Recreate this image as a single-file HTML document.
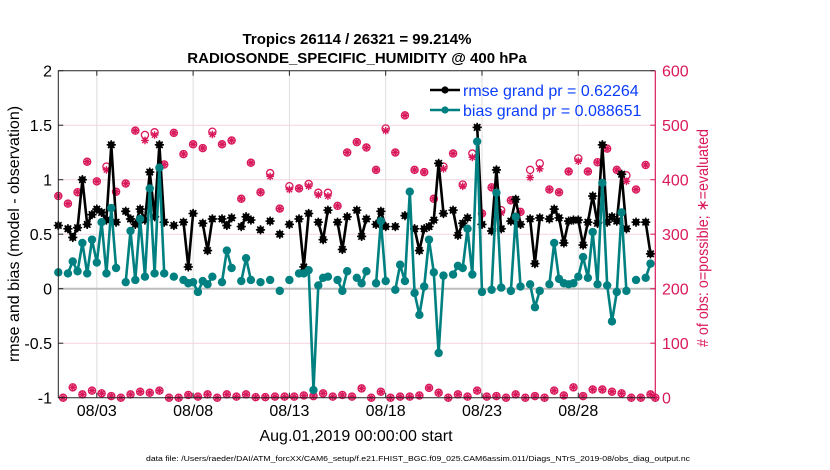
<!DOCTYPE html>
<html><head><meta charset="utf-8"><style>
html,body{margin:0;padding:0;background:#fff;width:830px;height:470px;overflow:hidden}
svg{display:block;font-family:"Liberation Sans",sans-serif}
</style></head><body>
<svg id="chart" width="830" height="470" xmlns="http://www.w3.org/2000/svg">
<text x="357" y="44" text-anchor="middle" font-size="15" font-weight="bold">Tropics 26114 / 26321 = 99.214%</text>
<text x="357" y="63" text-anchor="middle" font-size="15" font-weight="bold">RADIOSONDE_SPECIFIC_HUMIDITY @ 400 hPa</text>
<g id="grid"></g>
<g id="obs"></g>
<g id="series"></g>
<g id="axes"></g>
<text transform="translate(19,234) rotate(-90)" text-anchor="middle" font-size="16">rmse and bias (model - observation)</text>
<text transform="translate(708,238) rotate(-90)" text-anchor="middle" font-size="16" fill="#d9195c" textLength="218" lengthAdjust="spacingAndGlyphs"># of obs: o=possible; ∗=evaluated</text>
<text x="356" y="441" text-anchor="middle" font-size="16">Aug.01,2019 00:00:00 start</text>
<text x="418" y="461" text-anchor="middle" font-size="7.6" textLength="544" lengthAdjust="spacingAndGlyphs">data file: /Users/raeder/DAI/ATM_forcXX/CAM6_setup/f.e21.FHIST_BGC.f09_025.CAM6assim.011/Diags_NTrS_2019-08/obs_diag_output.nc</text>
<g id="legend"></g>
</svg>
<script>
const rmse = [0.58,null,0.55,0.47,0.56,1.0,0.59,0.68,0.73,0.70,0.63,1.32,0.61,null,0.71,0.64,0.59,0.73,0.63,1.07,0.66,1.32,0.61,null,0.58,null,0.61,0.2,0.69,null,0.6,0.35,0.64,null,0.64,0.58,0.65,null,0.57,0.66,0.63,null,0.54,null,0.62,null,0.5,null,0.59,null,0.64,0.2,0.69,null,0.61,0.45,0.72,null,0.61,0.36,0.66,null,0.72,0.48,0.64,null,0.59,0.71,0.57,null,0.57,null,0.67,null,0.55,0.35,0.55,0.57,0.63,1.15,0.69,null,0.72,0.49,0.6,0.65,null,1.48,0.59,null,0.53,1.09,0.55,null,0.62,0.82,0.59,null,0.64,0.23,0.65,null,0.64,0.73,0.65,0.42,0.62,0.63,0.63,0.4,0.61,0.85,0.6,1.32,0.61,0.66,0.62,1.05,0.55,null,0.61,null,0.61,0.32,null];
const bias = [0.15,null,0.14,0.25,0.16,0.42,0.14,0.45,0.24,0.61,0.14,0.74,0.19,null,0.06,0.53,0.08,0.64,0.11,0.92,0.14,1.11,0.14,null,0.11,null,0.08,0.05,0.06,-0.03,0.07,0.04,0.11,null,0.06,0.35,0.19,null,0.07,0.28,0.08,null,0.06,null,0.08,null,-0.02,null,0.08,null,0.14,0.14,0.17,-0.93,0.03,0.1,0.11,null,0.08,-0.02,0.16,null,0.1,0.05,0.16,null,0.05,0.62,0.07,null,-0.01,0.22,0.07,0.89,-0.04,-0.24,0.02,0.45,0.15,-0.59,0.12,null,0.13,0.21,0.19,0.55,0.13,1.35,-0.03,null,-0.01,0.88,0.01,null,-0.02,0.66,0.02,null,0.04,-0.17,-0.02,null,0.04,0.42,0.09,0.05,0.04,0.05,0.11,0.29,0.1,0.52,0.04,0.97,0.03,-0.3,-0.03,0.7,-0.02,null,0.08,null,0.1,0.23,null];
const possible = [370,0,356,19,377,6,433,13,397,8,424,3,378,0,393,6,490,11,482,9,487,13,428,0,486,0,447,5,465,2,458,6,488,0,465,6,472,2,365,6,431,1,377,1,412,2,347,2,388,2,384,4,392,3,376,8,376,2,352,5,450,2,469,17,459,0,418,11,494,0,450,2,518,2,418,4,414,18,365,9,424,0,448,6,391,2,448,13,338,2,386,3,344,0,362,6,341,0,418,3,430,0,382,13,377,4,415,19,439,3,415,15,432,15,457,11,418,8,408,0,382,0,427,6,0];
const evaluated = [370,0,356,19,377,6,433,13,397,8,418,3,378,0,393,6,490,11,472,9,482,13,428,0,486,0,447,5,465,2,458,6,483,0,465,6,472,2,365,6,431,1,377,1,406,2,347,2,382,2,384,4,388,3,372,8,370,2,352,5,450,2,469,17,459,0,418,11,490,0,450,2,518,2,418,4,414,18,365,9,420,0,448,6,388,2,441,13,338,2,386,3,339,0,362,6,341,0,404,3,420,0,382,13,377,4,415,19,434,3,415,15,432,15,457,11,418,8,397,0,382,0,427,6,0];
const xTickLabels = ["08/03","08/08","08/13","08/18","08/23","08/28"];
const xTickIdx = [8,28,48,68,88,108];
const yTicks = [-1,-0.5,0,0.5,1,1.5,2];
const yTickLabels = ["-1","-0.5","0","0.5","1","1.5","2"];
const rTicks = [0,100,200,300,400,500,600];

const NS="http://www.w3.org/2000/svg";
const L=58.3,R=655.3,T=70.7,B=397.7;
const xS=i=>L+(R-L)*i/124;
const yS=v=>B-(B-T)*(v+1)/3;
const rS=c=>B-(B-T)*c/600;
const RED="#d9195c",TEAL="#008080";
function mk(tag,attrs,parent){const e=document.createElementNS(NS,tag);for(const k in attrs)e.setAttribute(k,attrs[k]);parent.appendChild(e);return e;}
const grid=document.getElementById('grid'),axes=document.getElementById('axes'),obs=document.getElementById('obs'),series=document.getElementById('series'),legend=document.getElementById('legend');

yTicks.forEach((v,k)=>{
  if(v!==0&&v!==-1&&v!==2){const g=mk('line',{x1:L,x2:R,y1:yS(v),y2:yS(v),stroke:'#f6d3de','stroke-width':1},grid);
  
  }
  const t=mk('text',{x:52,y:yS(v)+6,'text-anchor':'end','font-size':16},axes);t.textContent=yTickLabels[k];
  
  
  mk('line',{x1:L,x2:L+5,y1:yS(v),y2:yS(v),stroke:'#222'},axes);
});
xTickIdx.forEach((i,k)=>{
  const g=mk('line',{x1:xS(i),x2:xS(i),y1:T,y2:B,stroke:'#dedede','stroke-width':1},grid);
  
  
  mk('line',{x1:xS(i),x2:xS(i),y1:B,y2:B-5,stroke:'#222'},axes);
  mk('line',{x1:xS(i),x2:xS(i),y1:T,y2:T+5,stroke:'#222'},axes);
  const t=mk('text',{x:xS(i),y:416,'text-anchor':'middle','font-size':16},axes);t.textContent=xTickLabels[k];
  
  
});
const z=mk('line',{x1:L,x2:R,y1:yS(0),y2:yS(0),stroke:'#bdbdbd','stroke-width':2},grid);


rTicks.forEach(c=>{
  mk('line',{x1:R,x2:R-5,y1:rS(c),y2:rS(c),stroke:RED},axes);
  const t=mk('text',{x:662,y:rS(c)+6,'font-size':16,fill:RED},axes);t.textContent=String(c);
  
  
});
mk('path',{d:`M${R},${T} H${L} V${B} H${R}`,fill:'none',stroke:'#222','stroke-width':1},axes);
const ra=mk('line',{x1:R,x2:R,y1:T,y2:B,stroke:RED,'stroke-width':1.2},axes);



function star(g,x,y,r,col,w){for(let a=0;a<4;a++){const an=a*Math.PI/4;mk('line',{x1:x-r*Math.cos(an),y1:y-r*Math.sin(an),x2:x+r*Math.cos(an),y2:y+r*Math.sin(an),stroke:col,'stroke-width':w},g);}}
possible.forEach((c,i)=>{
  const g=mk('g',{},obs);
  
  
  mk('circle',{cx:xS(i),cy:rS(c),r:3.6,fill:'none',stroke:RED,'stroke-width':1.3},g);
  star(g,xS(i),rS(evaluated[i]),3.8,RED,1.4);
});
function drawLine(data,col,name){
  let d='',pen=false;
  data.forEach((v,i)=>{if(v===null){pen=false;return;}d+=(pen?'L':'M')+xS(i).toFixed(1)+','+yS(v).toFixed(1);pen=true;});
  const p=mk('path',{d:d,fill:'none',stroke:col,'stroke-width':2.6,'stroke-linejoin':'round'},series);
  
  
}
drawLine(rmse,'#000','rmse');
rmse.forEach((v,i)=>{if(v===null)return;const g=mk('g',{},series);
  
  
  mk('circle',{cx:xS(i),cy:yS(v),r:3.4,fill:'#000'},g);star(g,xS(i),yS(v),4.6,'#000',1.6);});
drawLine(bias,TEAL,'bias');
bias.forEach((v,i)=>{if(v===null)return;const c=mk('circle',{cx:xS(i),cy:yS(v),r:4.2,fill:TEAL},series);
  
  });

[['rmse grand pr = 0.62264','#000',90,'legend-entry-rmse'],['bias grand pr = 0.088651',TEAL,110,'legend-entry-bias']].forEach(([txt,col,y,nm])=>{
  const g=mk('g',{},legend);
  
  
  mk('line',{x1:430,x2:460,y1:y,y2:y,stroke:col,'stroke-width':2.6},g);
  mk('circle',{cx:445,cy:y,r:3.6,fill:col},g);
  const t=mk('text',{x:463,y:y+6,'font-size':16,fill:'#0a3cff'},g);t.textContent=txt;
});
</script>
</body></html>
